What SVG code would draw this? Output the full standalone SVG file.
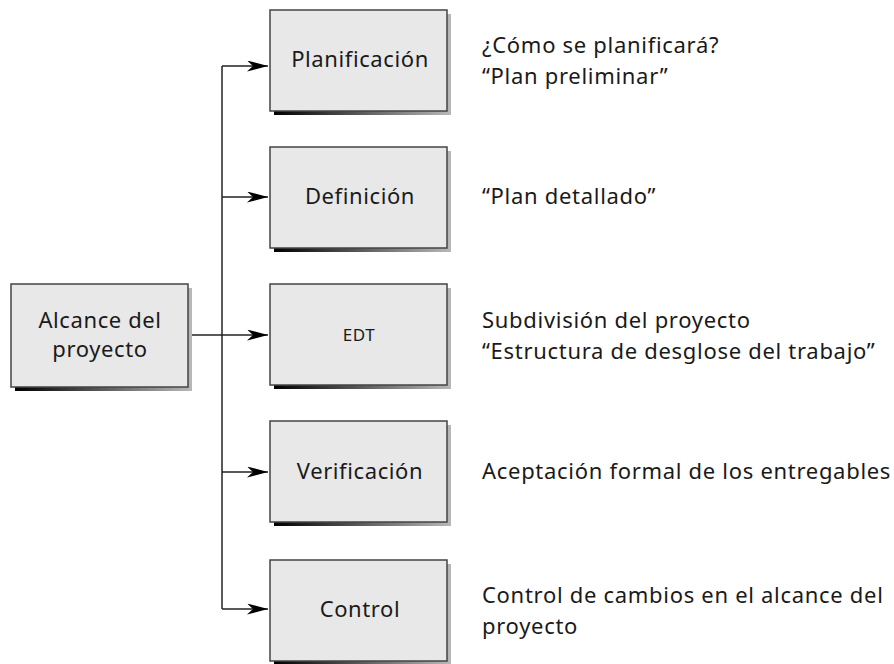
<svg xmlns="http://www.w3.org/2000/svg" width="894" height="664" viewBox="0 0 894 664">
<style>
.box{fill:#e8e8e8;stroke:#444;stroke-width:1.5}
.sh{fill:url(#g)}
.lbl{font-family:"Noto Sans","Open Sans",sans-serif;font-size:22px;letter-spacing:0.6px;fill:#1a1a1a;text-anchor:middle}
.txt{font-family:"Noto Sans","Open Sans",sans-serif;font-size:22px;letter-spacing:0.7px;fill:#1a1a1a}
.ln{stroke:#222;stroke-width:1.5;fill:none}
</style>
<defs>
<linearGradient id="g" x1="0" x2="1" y1="0" y2="0">
<stop offset="0" stop-color="#000"/>
<stop offset="1" stop-color="#b8b8b8"/>
</linearGradient>
<marker id="ah" viewBox="0 0 21 11" refX="21" refY="5.5" markerWidth="21" markerHeight="11" markerUnits="userSpaceOnUse" orient="auto">
<path d="M0,0 L21,5.5 L0,11 L6,5.5 Z" fill="#000"/>
</marker>
</defs>
<g id="connectors">
<path class="ln" d="M222,609 V66"/>
<path class="ln" d="M222,66 H268" marker-end="url(#ah)"/>
<path class="ln" d="M222,197 H268" marker-end="url(#ah)"/>
<path class="ln" d="M188,335 H268" marker-end="url(#ah)"/>
<path class="ln" d="M222,472 H268" marker-end="url(#ah)"/>
<path class="ln" d="M222,609 H268" marker-end="url(#ah)"/>
</g>
<g id="alcance">
<rect class="sh" x="15" y="288" width="177" height="103"/>
<rect class="box" x="11" y="284" width="177" height="103"/>
<text class="lbl" x="100" y="328">Alcance del</text>
<text class="lbl" x="100" y="357">proyecto</text>
</g>
<g id="planificacion">
<rect class="sh" x="274" y="14" width="177" height="101"/>
<rect class="box" x="270" y="10" width="177" height="101"/>
<text class="lbl" x="360" y="67">Planificación</text>
</g>
<g id="definicion">
<rect class="sh" x="274" y="151" width="177" height="101"/>
<rect class="box" x="270" y="147" width="177" height="101"/>
<text class="lbl" x="360" y="204">Definición</text>
</g>
<g id="edt">
<rect class="sh" x="274" y="288" width="177" height="101"/>
<rect class="box" x="270" y="284" width="177" height="101"/>
<text class="lbl" x="359" y="341" style="font-size:17px">EDT</text>
</g>
<g id="verificacion">
<rect class="sh" x="274" y="425" width="177" height="101"/>
<rect class="box" x="270" y="421" width="177" height="101"/>
<text class="lbl" x="360" y="479">Verificación</text>
</g>
<g id="control">
<rect class="sh" x="274" y="564" width="177" height="101"/>
<rect class="box" x="270" y="560" width="177" height="101"/>
<text class="lbl" x="360" y="617">Control</text>
</g>
<g id="descriptions">
<text class="txt" x="482" y="53">¿Cómo se planificará?</text>
<text class="txt" x="482" y="84">“Plan preliminar”</text>
<text class="txt" x="482" y="204">“Plan detallado”</text>
<text class="txt" x="482" y="328">Subdivisión del proyecto</text>
<text class="txt" x="482" y="359">“Estructura de desglose del trabajo”</text>
<text class="txt" x="482" y="479">Aceptación formal de los entregables</text>
<text class="txt" x="482" y="603">Control de cambios en el alcance del</text>
<text class="txt" x="482" y="634">proyecto</text>
</g>
</svg>
